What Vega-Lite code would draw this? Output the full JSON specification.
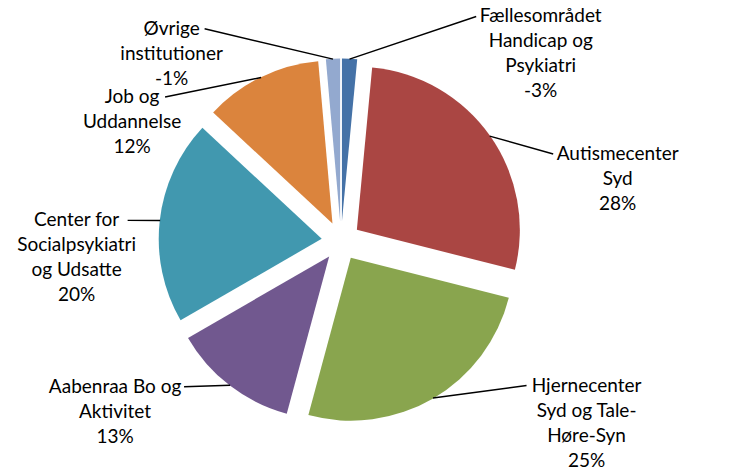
{
  "$schema": "https://vega.github.io/schema/vega-lite/v6.json",
  "width": 682,
  "height": 454,
  "autosize": {"type": "none"},
  "padding": {"left": 0, "top": 14, "right": 49, "bottom": 0},
  "background": "white",
  "view": {"stroke": null},
  "data": {
    "values": [
      {"order": 1, "name": "Fællesområdet Handicap og Psykiatri", "share": 1.5, "label": "Fællesområdet\nHandicap og\nPsykiatri\n-3%"},
      {"order": 2, "name": "Autismecenter Syd", "share": 27.5, "label": "Autismecenter\nSyd\n28%"},
      {"order": 3, "name": "Hjernecenter Syd og Tale-Høre-Syn", "share": 25.3, "label": "Hjernecenter\nSyd og Tale-\nHøre-Syn\n25%"},
      {"order": 4, "name": "Aabenraa Bo og Aktivitet", "share": 12.5, "label": "Aabenraa Bo og\nAktivitet\n13%"},
      {"order": 5, "name": "Center for Socialpsykiatri og Udsatte", "share": 20.3, "label": "Center for\nSocialpsykiatri\nog Udsatte\n20%"},
      {"order": 6, "name": "Job og Uddannelse", "share": 11.7, "label": "Job og\nUddannelse\n12%"},
      {"order": 7, "name": "Øvrige institutioner", "share": 1.4, "label": "Øvrige\ninstitutioner\n-1%"}
    ]
  },
  "transform": [
    {"joinaggregate": [{"op": "sum", "field": "share", "as": "total"}]},
    {"window": [{"op": "sum", "field": "share", "as": "cum"}], "sort": [{"field": "order", "order": "ascending"}]}
  ],
  "layer": [
    {
      "mark": {
        "type": "arc",
        "radius": 163,
        "xOffset": {"expr": "19.4*sin(2*PI*(datum.cum - datum.share/2)/datum.total)"},
        "yOffset": {"expr": "-19.4*cos(2*PI*(datum.cum - datum.share/2)/datum.total)"}
      },
      "encoding": {
        "theta": {"field": "share", "type": "quantitative", "stack": true},
        "order": {"field": "order", "type": "quantitative"},
        "color": {
          "field": "name",
          "type": "nominal",
          "legend": null,
          "scale": {
            "domain": ["Fællesområdet Handicap og Psykiatri", "Autismecenter Syd", "Hjernecenter Syd og Tale-Høre-Syn", "Aabenraa Bo og Aktivitet", "Center for Socialpsykiatri og Udsatte", "Job og Uddannelse", "Øvrige institutioner"],
            "range": ["#4572A7", "#AA4643", "#89A54E", "#71588F", "#4198AF", "#DB843D", "#93A9CF"]
          }
        }
      }
    },
    {
      "mark": {"type": "rule", "color": "black", "strokeWidth": 1.4},
      "encoding": {
        "x": {"value": {"expr": "width/2 + 182*sin(2*PI*(datum.cum - datum.share/2)/datum.total)"}},
        "y": {"value": {"expr": "height/2 - 182*cos(2*PI*(datum.cum - datum.share/2)/datum.total)"}},
        "x2": {"value": {"expr": "width/2 + 15 + (sin(2*PI*(datum.cum - datum.share/2)/datum.total) >= 0 ? 1 : -1)*(180 + 100*abs(sin(2*PI*(datum.cum - datum.share/2)/datum.total)) - 4.5*length(split(datum.label, '\\n')[0]) - 6)"}},
        "y2": {"value": {"expr": "height/2 + 36 - 170*cos(2*PI*(datum.cum - datum.share/2)/datum.total) - 55*pow(cos(2*PI*(datum.cum - datum.share/2)/datum.total), 30) - (length(split(datum.label, '\\n')) - 1)*12.5"}}
      }
    },
    {
      "mark": {
        "type": "text",
        "font": "Lato",
        "fontSize": 19,
        "lineBreak": "\n",
        "lineHeight": 25,
        "align": "center",
        "baseline": "middle",
        "color": "black",
        "xOffset": {"expr": "15 + (sin(2*PI*(datum.cum - datum.share/2)/datum.total) >= 0 ? 1 : -1)*(180 + 100*abs(sin(2*PI*(datum.cum - datum.share/2)/datum.total)))"},
        "yOffset": {"expr": "36 - 170*cos(2*PI*(datum.cum - datum.share/2)/datum.total) - 55*pow(cos(2*PI*(datum.cum - datum.share/2)/datum.total), 30) - (length(split(datum.label, '\\n')) - 1)*12.5"}
      },
      "encoding": {
        "text": {"field": "label", "type": "nominal"}
      }
    }
  ]
}
